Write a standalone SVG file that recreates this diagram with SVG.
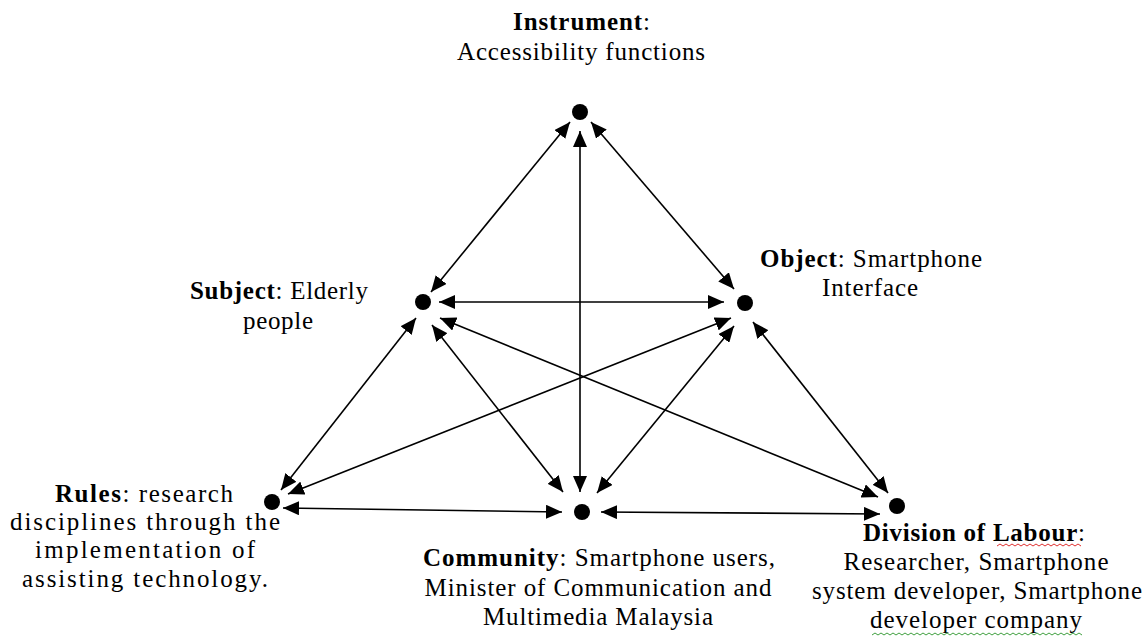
<svg xmlns="http://www.w3.org/2000/svg" width="1146" height="638" viewBox="0 0 1146 638">
<style>
text{font-family:"Liberation Serif","Times New Roman",serif;font-size:25px;fill:#000;text-anchor:middle}
.b{font-weight:bold}
.e{stroke:#000;stroke-width:1.6;fill:none;marker-start:url(#ah);marker-end:url(#ah)}
.dot{fill:#000}
</style>
<defs>
<marker id="ah" markerUnits="userSpaceOnUse" markerWidth="17" markerHeight="14" refX="16" refY="7" orient="auto-start-reverse" viewBox="0 0 17 14">
<path d="M0,0 L16,7 L0,14 z" fill="#000"/>
</marker>
</defs>
<rect width="1146" height="638" fill="#fff"/>
<g id="connectors">
<line class="e" x1="570" y1="122" x2="431" y2="292"/>
<line class="e" x1="591" y1="122" x2="734" y2="289"/>
<line class="e" x1="580" y1="131" x2="580" y2="492"/>
<line class="e" x1="439" y1="302" x2="724" y2="302"/>
<line class="e" x1="416" y1="318" x2="281" y2="490"/>
<line class="e" x1="432" y1="325" x2="563" y2="492"/>
<line class="e" x1="440" y1="318" x2="878" y2="497"/>
<line class="e" x1="731" y1="318" x2="288" y2="494"/>
<line class="e" x1="734" y1="326" x2="597" y2="493"/>
<line class="e" x1="753" y1="322" x2="888" y2="493"/>
<line class="e" x1="283" y1="508" x2="562" y2="512"/>
<line class="e" x1="601" y1="512" x2="880" y2="514"/>
</g>
<g id="instrument">
<circle class="dot" cx="580" cy="112" r="8"/>
<text x="581.5" y="30" textLength="137" lengthAdjust="spacing"><tspan class="b">Instrument</tspan>:</text>
<text x="581" y="60" textLength="248" lengthAdjust="spacing">Accessibility functions</text>
</g>
<g id="subject">
<circle class="dot" cx="423" cy="302" r="8"/>
<text x="279" y="299" textLength="178" lengthAdjust="spacing"><tspan class="b">Subject</tspan>: Elderly</text>
<text x="278" y="329" textLength="70" lengthAdjust="spacing">people</text>
</g>
<g id="object">
<circle class="dot" cx="745" cy="303" r="8"/>
<text x="871" y="267" textLength="222" lengthAdjust="spacing"><tspan class="b">Object</tspan>: Smartphone</text>
<text x="870" y="296" textLength="96" lengthAdjust="spacing">Interface</text>
</g>
<g id="rules">
<circle class="dot" cx="272" cy="502" r="8"/>
<text x="144" y="502" textLength="178" lengthAdjust="spacing"><tspan class="b">Rules</tspan>: research</text>
<text x="145" y="530" textLength="270" lengthAdjust="spacing">disciplines through the</text>
<text x="145" y="558" textLength="220" lengthAdjust="spacing">implementation of</text>
<text x="145" y="587" textLength="246" lengthAdjust="spacing">assisting technology.</text>
</g>
<g id="community">
<circle class="dot" cx="582" cy="512" r="8"/>
<text x="599" y="566" textLength="352" lengthAdjust="spacing"><tspan class="b">Community</tspan>:  Smartphone users,</text>
<text x="598" y="596" textLength="347" lengthAdjust="spacing">Minister of Communication and</text>
<text x="598" y="625" textLength="230" lengthAdjust="spacing">Multimedia Malaysia</text>
</g>
<g id="division">
<circle class="dot" cx="897" cy="506" r="8"/>
<text x="974" y="541" textLength="222" lengthAdjust="spacing"><tspan class="b">Division of Labour</tspan>:</text>
<text x="976" y="570" textLength="265" lengthAdjust="spacing">Researcher, Smartphone</text>
<text x="977" y="599" textLength="330" lengthAdjust="spacing">system developer, Smartphone</text>
<text x="976" y="628" textLength="212" lengthAdjust="spacing">developer company</text>
<path d="M997,546 l3,-2 l3,2 l3,-2 l3,2 l3,-2 l3,2 l3,-2 l3,2 l3,-2 l3,2 l3,-2 l3,2 l3,-2 l3,2 l3,-2 l3,2 l3,-2 l3,2 l3,-2 l3,2 l3,-2 l3,2 l3,-2 l3,2 l3,-2 l3,2 l3,-2 l3,2" fill="none" stroke="#e03030" stroke-width="1"/>
<path d="M872,635 l3,-2 l3,2 l3,-2 l3,2 l3,-2 l3,2 l3,-2 l3,2 l3,-2 l3,2 l3,-2 l3,2 l3,-2 l3,2 l3,-2 l3,2 l3,-2 l3,2 l3,-2 l3,2 l3,-2 l3,2 l3,-2 l3,2 l3,-2 l3,2 l3,-2 l3,2 l3,-2 l3,2 l3,-2 l3,2 l3,-2 l3,2 l3,-2 l3,2 l3,-2 l3,2 l3,-2 l3,2 l3,-2 l3,2 l3,-2 l3,2 l3,-2 l3,2 l3,-2 l3,2 l3,-2 l3,2 l3,-2 l3,2 l3,-2 l3,2 l3,-2 l3,2 l3,-2 l3,2 l3,-2 l3,2 l3,-2 l3,2 l3,-2 l3,2 l3,-2 l3,2 l3,-2 l3,2 l3,-2 l3,2" fill="none" stroke="#40a040" stroke-width="1"/>
</g>
</svg>
